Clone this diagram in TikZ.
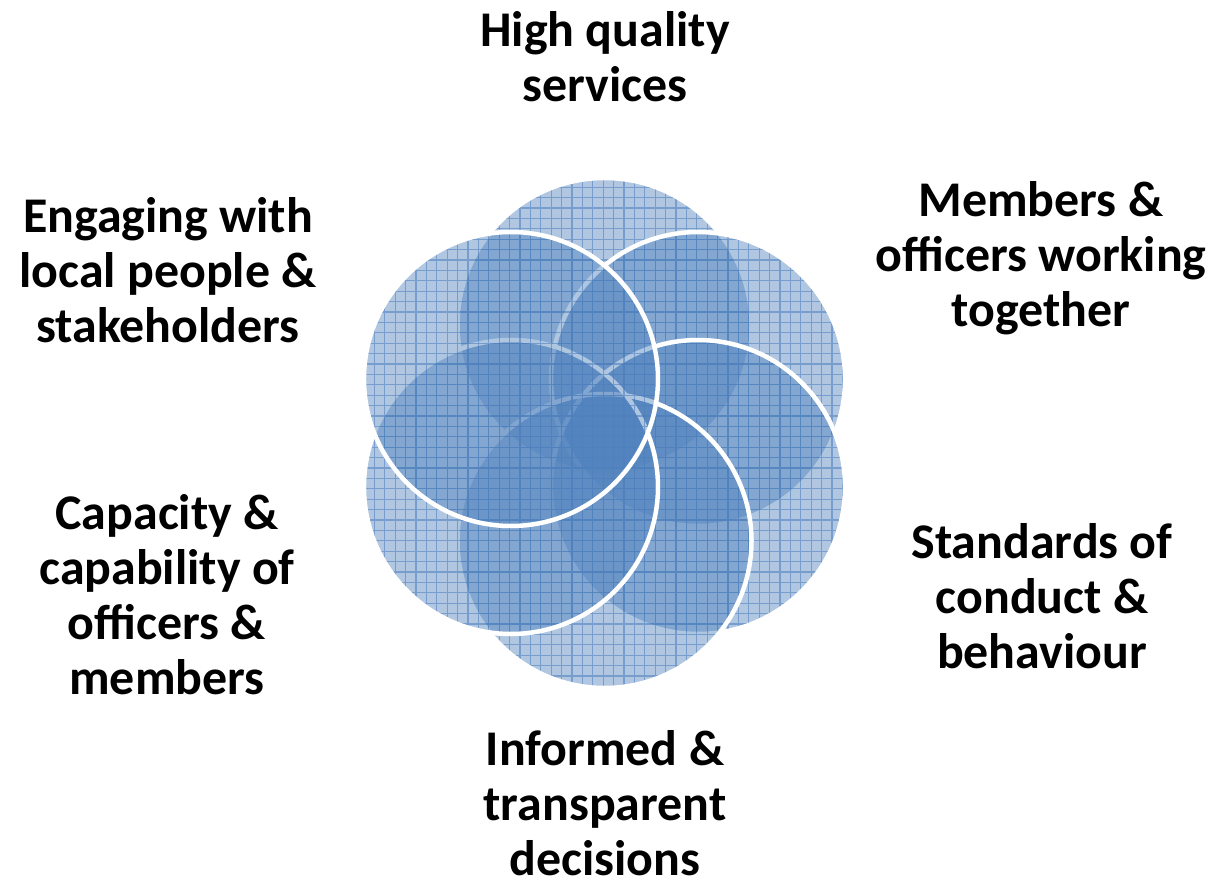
\documentclass[tikz,border=0pt]{standalone}
\usepackage{fontspec}
\setmainfont{Carlito}
\usetikzlibrary{positioning,calc}
\definecolor{petalblue}{RGB}{79,129,189}
\tikzset{
    % Define the petal and label styles
    petal/.style={
        fill=petalblue, fill opacity=0.45,
        draw=white, draw opacity=1, line width=3.2pt,
        path picture={
            \draw[petalblue, line width=0.9pt, draw opacity=0.6, step=10.4]
                (300,100) grid (920,800);
        }
    },
    themetext/.style={
        align=center, text=black, inner sep=0pt,
        font=\fontsize{35.5}{39.1}\selectfont\bfseries
    }
}
\begin{document}
\begin{tikzpicture}[x=0.025cm, y=0.025cm]
\useasboundingbox (0,0) rectangle (1216,884);

% Hub of the flower and petal centres
\coordinate (hub) at (604.5,451);
\coordinate (quality) at ($(hub)+(90:108)$);
\coordinate (members) at ($(hub)+(30:108)$);
\coordinate (standards) at ($(hub)+(-30:108)$);
\coordinate (informed) at ($(hub)+(-90:108)$);
\coordinate (capacity) at ($(hub)+(-150:108)$);
\coordinate (engaging) at ($(hub)+(150:108)$);

% Petals, clockwise from the top
\path[petal] (quality) circle [radius=147];
\path[petal] (members) circle [radius=147];
\path[petal] (standards) circle [radius=147];
\path[petal] (informed) circle [radius=147];
\path[petal] (capacity) circle [radius=147];
\path[petal] (engaging) circle [radius=147];

% Theme labels
\node[themetext] (qualitytext) at (605,827) {High quality\\services};
\node[themetext] (memberstext) at (1041,626) {Members \&\\officers working\\together};
\node[themetext] (standardstext) at (1042,288) {Standards of\\conduct \&\\behaviour};
\node[themetext] (informedtext) at (605,81) {Informed \&\\transparent\\decisions};
\node[themetext] (capacitytext) at (167,289) {Capacity \&\\capability of\\officers \&\\members};
\node[themetext] (engagingtext) at (168,614) {Engaging with\\local people \&\\stakeholders};

\end{tikzpicture}
\end{document}
